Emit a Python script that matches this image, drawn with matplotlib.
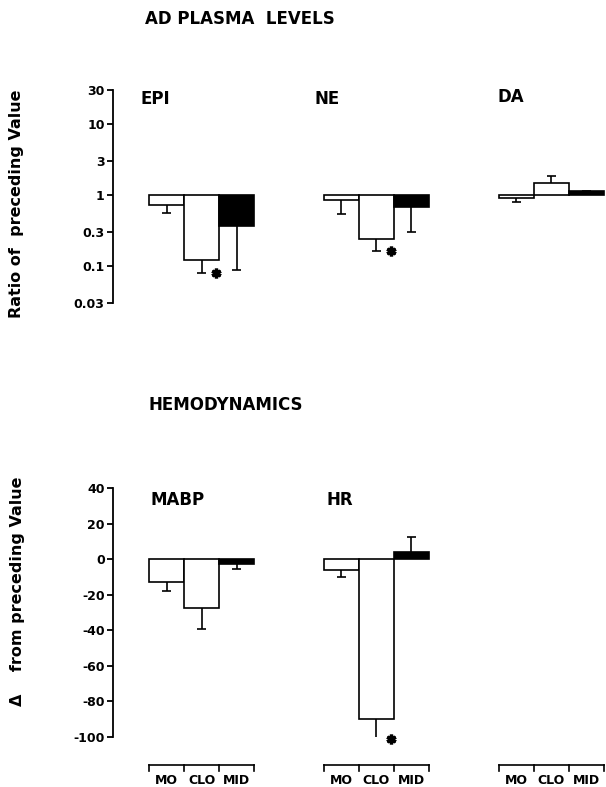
import numpy as np
import matplotlib.pyplot as plt
from matplotlib.ticker import FixedLocator, NullLocator

plt.rcParams['font.family'] = ['DejaVu Sans']
plt.rcParams['font.weight'] = 'bold'

# Daten
conditions = ['MO', 'CLO', 'MID']
bar_colors = ['white', 'white', 'black']

plasma_names = ['EPI', 'NE', 'DA']
plasma_ratio = [[0.72, 0.12, 0.36],
                [0.85, 0.24, 0.68],
                [0.90, 1.47, 1.12]]
plasma_err_end = [[0.56, 0.08, 0.088],
                  [0.54, 0.16, 0.30],
                  [0.80, 1.85, 1.15]]
plasma_signif = [[False, True, False],
                 [False, True, False],
                 [False, False, False]]

hemo_names = ['MABP', 'HR']
hemo_delta = [[-13, -27.6, -2.5],
              [-6, -90, 3.9]]
hemo_err_end = [[-18, -39, -5.5],
                [-10, -101, 12.4]]
hemo_signif = [[False, False, False],
               [False, True, False]]

log_ticks = [0.03, 0.1, 0.3, 1, 3, 10, 30]
log_ticklabels = ['0.03', '0.1', '0.3', '1', '3', '10', '30']
lin_ticks = [-100, -80, -60, -40, -20, 0, 20, 40]

W, H = 606, 787
fig = plt.figure(figsize=(W / 100, H / 100), dpi=100)


def px(x0, y0, x1, y1):
    # Rechteck in Pixeln (oben links) -> Figurenkoordinaten
    return [x0 / W, 1 - y1 / H, (x1 - x0) / W, (y1 - y0) / H]


def ftext(x, y, s, **kw):
    fig.text(x / W, 1 - y / H, s, **kw)


ax_top = fig.add_axes(px(113, 90, 606, 303))
ax_bot = fig.add_axes(px(113, 488, 606, 737))

xlim = (-1.53, 12.56)
for ax in (ax_top, ax_bot):
    ax.set_xlim(*xlim)
    for s in ('top', 'right', 'bottom'):
        ax.spines[s].set_visible(False)
    ax.spines['left'].set_linewidth(1.3)
    ax.tick_params(axis='y', direction='out', length=4.5, width=1.3,
                   labelsize=9, pad=1.5)
    ax.set_xticks([])
    ax.patch.set_alpha(0)

ax_top.set_yscale('log')
ax_top.set_ylim(0.03, 30)
ax_top.yaxis.set_major_locator(FixedLocator(log_ticks))
ax_top.yaxis.set_minor_locator(NullLocator())
ax_top.set_yticklabels(log_ticklabels)

ax_bot.set_ylim(-100, 40)
ax_bot.set_yticks(lin_ticks)
ax_bot.set_yticklabels([str(t) for t in lin_ticks])


def draw_group(ax, g, vals, ends, signif, base):
    x0 = g * 5
    for i in range(3):
        x = x0 + i
        ax.bar(x, vals[i] - base, bottom=base, width=1, color=bar_colors[i],
               edgecolor='black', linewidth=1.2, zorder=2)
        ax.vlines(x, vals[i], ends[i], color='black', lw=1.2, zorder=1)
        ax.hlines(ends[i], x - 0.12, x + 0.12, color='black', lw=1.2)
        if signif[i]:
            ax.plot(x + 0.42, ends[i], marker=(6, 2, 0), ms=7, mew=2.4,
                    color='black', clip_on=False)


for g in range(3):
    draw_group(ax_top, g, plasma_ratio[g], plasma_err_end[g],
               plasma_signif[g], 1)
for g in range(2):
    draw_group(ax_bot, g, hemo_delta[g], hemo_err_end[g],
               hemo_signif[g], 0)

# Klammern mit MO / CLO / MID unter den Gruppen
tr = ax_bot.get_xaxis_transform()
yb = (787 - 765 - 50) / 249
yt = (787 - 771 - 50) / 249
yl = (787 - 780 - 50) / 249
for g in range(3):
    x0 = g * 5
    ax_bot.plot([x0 - 0.5, x0 + 2.5], [yb, yb], color='black', lw=1.2,
                transform=tr, clip_on=False)
    for k in range(4):
        ax_bot.plot([x0 - 0.5 + k] * 2, [yb, yt], color='black', lw=1.2,
                    transform=tr, clip_on=False)
    for i, c in enumerate(conditions):
        ax_bot.text(x0 + i, yl, c, transform=tr, ha='center', va='center',
                    fontsize=9, fontweight='bold')

# Beschriftungen
ftext(145, 19, 'AD PLASMA  LEVELS', fontsize=12, va='center')
ftext(148, 405, 'HEMODYNAMICS', fontsize=12, va='center')
for name, (x, y) in zip(plasma_names, [(140, 99), (315, 99), (498, 97)]):
    ftext(x, y, name, fontsize=12, va='center')
for name, (x, y) in zip(hemo_names, [(151, 500), (327, 500)]):
    ftext(x, y, name, fontsize=12, va='center')

ftext(17, 204, 'Ratio of  preceding Value', fontsize=11.5, rotation=90,
      ha='center', va='center')
ftext(18, 591, '\u0394    from preceding Value', fontsize=11.5, rotation=90,
      ha='center', va='center')

fig.savefig('out.png', dpi=100)
